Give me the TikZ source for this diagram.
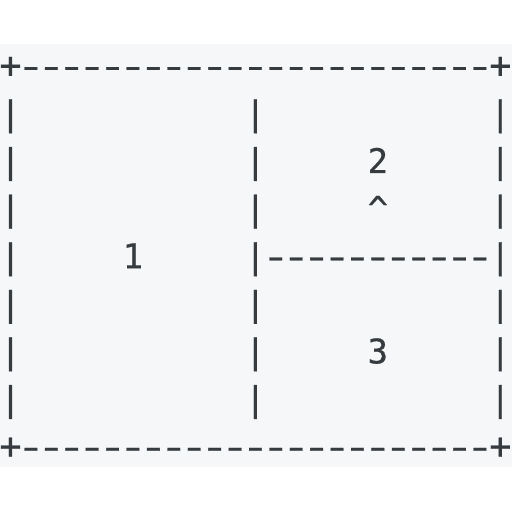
\documentclass[tikz,border=0pt]{standalone}
\usepackage{fontspec}
\setmonofont{DejaVu Sans Mono}[FakeBold=0.6]
\definecolor{bgc}{HTML}{F6F7F9}
\definecolor{txt}{HTML}{363B40}
\newcommand\hy{\makebox[0.60205em][c]{\scalebox{1.45}[1]{-}}}
\newcommand\pl{\makebox[0.60205em][c]{\scalebox{1.08}{+}}}
\tikzset{
  asciiline/.style={anchor=base west, inner sep=0pt, outer sep=0pt, text=txt,
    font=\ttfamily\fontsize{33.9pt}{47.6pt}\selectfont},
}
\begin{document}
\begin{tikzpicture}[x=1pt,y=1pt]
\useasboundingbox[fill=white] (0,0) rectangle (512,512);
\fill[bgc] (0,512-467.5) rectangle (512,512-44);
\node[asciiline] (l0) at (0.3,512-77.8) {\pl\hy\hy\hy\hy\hy\hy\hy\hy\hy\hy\hy\hy\hy\hy\hy\hy\hy\hy\hy\hy\hy\hy\hy\pl};
\node[asciiline] (l1) at (0.3,512-125.4) {|~~~~~~~~~~~|~~~~~~~~~~~|};
\node[asciiline] (l2) at (0.3,512-173.0) {|~~~~~~~~~~~|~~~~~2~~~~~|};
\node[asciiline] (l3) at (0.3,512-220.6) {|~~~~~~~~~~~|~~~~~\textasciicircum~~~~~|};
\node[asciiline] (l4) at (0.3,512-268.2) {|~~~~~1~~~~~|\hy\hy\hy\hy\hy\hy\hy\hy\hy\hy\hy|};
\node[asciiline] (l5) at (0.3,512-315.8) {|~~~~~~~~~~~|~~~~~~~~~~~|};
\node[asciiline] (l6) at (0.3,512-363.4) {|~~~~~~~~~~~|~~~~~3~~~~~|};
\node[asciiline] (l7) at (0.3,512-411.0) {|~~~~~~~~~~~|~~~~~~~~~~~|};
\node[asciiline] (l8) at (0.3,512-458.6) {\pl\hy\hy\hy\hy\hy\hy\hy\hy\hy\hy\hy\hy\hy\hy\hy\hy\hy\hy\hy\hy\hy\hy\hy\pl};
\end{tikzpicture}
\end{document}
